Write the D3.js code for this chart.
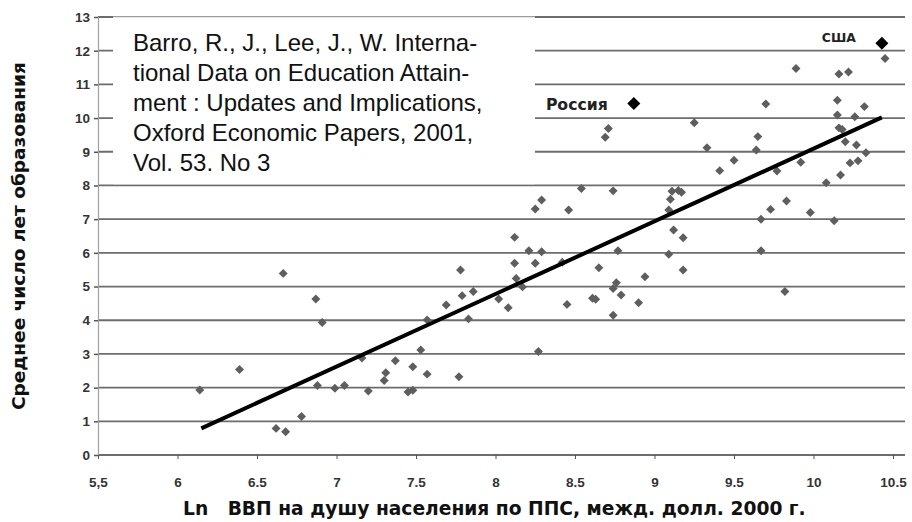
<!DOCTYPE html>
<html>
<head>
<meta charset="utf-8">
<script src="https://cdn.jsdelivr.net/npm/d3@7"></script>
<style>
    body { margin: 0; background: #fff; }
    svg { display: block; }
    .title { font-family: "DejaVu Sans", "Liberation Sans", Arial, sans-serif; font-weight: bold; fill: #111; }
    .note { font-family: "Liberation Sans", Arial, sans-serif; font-size: 24px; fill: #111; }
    .country { font-family: "DejaVu Sans", "Liberation Sans", Arial, sans-serif; font-weight: bold; fill: #222; }
    .axis text { font-family: "Liberation Sans", Arial, sans-serif; font-weight: bold; font-size: 13.5px; fill: #333; }
</style>
</head>
<body>
<div id="chart"></div>
<script>
const width = 912;
const height = 522;

// tick values and their printed labels (the source mixes "5,5" and "6.5")
const xTicks = [5.5, 6, 6.5, 7, 7.5, 8, 8.5, 9, 9.5, 10, 10.5];
const xTickLabels = ["5,5", "6", "6.5", "7", "7.5", "8", "8.5", "9", "9.5", "10", "10.5"];
const yTicks = [0, 1, 2, 3, 4, 5, 6, 7, 8, 9, 10, 11, 12, 13];

// countries: [ln GDP per capita, mean years of schooling]
const points = [
    [6.14, 1.93], [6.39, 2.54], [6.62, 0.79], [6.68, 0.69], [6.665, 5.39],
    [6.78, 1.14], [6.87, 4.63], [6.91, 3.93], [6.88, 2.06], [6.99, 1.98],
    [7.05, 2.06], [7.20, 1.90], [7.16, 2.88], [7.30, 2.21], [7.31, 2.44],
    [7.37, 2.80], [7.45, 1.87], [7.48, 1.92], [7.48, 2.62], [7.53, 3.12],
    [7.57, 2.40], [7.57, 4.01], [7.69, 4.45], [7.77, 2.32], [7.78, 5.49],
    [7.79, 4.73], [7.83, 4.04], [7.86, 4.85], [8.02, 4.63], [8.08, 4.37],
    [8.12, 5.69], [8.12, 6.46], [8.13, 5.24], [8.17, 4.99], [8.21, 6.06],
    [8.25, 5.69], [8.25, 7.30], [8.27, 3.07], [8.29, 6.03], [8.29, 7.57],
    [8.42, 5.72], [8.45, 4.47], [8.46, 7.27], [8.54, 7.91], [8.61, 4.65],
    [8.63, 4.62], [8.65, 5.56], [8.69, 9.43], [8.71, 9.69], [8.74, 7.84],
    [8.74, 4.94], [8.74, 4.15], [8.76, 5.11], [8.77, 6.06], [8.79, 4.75],
    [8.90, 4.52], [8.94, 5.29], [9.09, 5.96], [9.09, 7.27], [9.10, 7.59],
    [9.11, 7.83], [9.15, 7.85], [9.17, 7.80], [9.12, 6.68], [9.18, 6.45],
    [9.18, 5.49], [9.25, 9.86], [9.33, 9.12], [9.41, 8.44], [9.50, 8.75],
    [9.64, 9.05], [9.65, 9.45], [9.67, 7.00], [9.67, 6.06], [9.70, 10.42],
    [9.73, 7.29], [9.77, 8.43], [9.82, 4.85], [9.83, 7.54], [9.89, 11.47],
    [9.92, 8.69], [9.98, 7.20], [10.08, 8.08], [10.13, 6.95], [10.15, 10.53],
    [10.15, 10.09], [10.16, 11.31], [10.22, 11.37], [10.16, 9.71], [10.18, 9.66],
    [10.17, 8.31], [10.20, 9.30], [10.23, 8.67], [10.26, 10.04], [10.27, 9.20],
    [10.28, 8.73], [10.32, 10.34], [10.33, 8.97], [10.45, 11.77]
];

const highlighted = [
    {name: "Россия", x: 8.87, y: 10.43},
    {name: "США", x: 10.43, y: 12.22}
];

// regression line end points
const trend = [[6.15, 0.79], [10.43, 10.02]];

const noteLines = [
    "Barro, R., J., Lee, J., W. Interna-",
    "tional Data on Education Attain-",
    "ment : Updates and Implications,",
    "Oxford Economic Papers, 2001,",
    "Vol. 53. No 3"
];

const xTitle = "Ln   ВВП на душу населения по ППС, межд. долл. 2000 г.";
const yTitle = "Среднее число лет образования";

const margin = ({top: 17, right: 19, bottom: 67, left: 98});
const plotRight = width - 7;

const x = d3.scaleLinear()
    .domain([5.5, 10.5])
    .range([margin.left, width - margin.right]);

const y = d3.scaleLinear()
    .domain([0, 13])
    .range([height - margin.bottom, margin.top]);

const svg = d3.select("#chart")
    .append("svg")
    .attr("width", width)
    .attr("height", height);

// scale a text's font so that it spans the given width
function fitText(sel, target) {
    const base = 20;
    sel.style("font-size", base + "px");
    const w = sel.node().getComputedTextLength();
    sel.style("font-size", (base * target / w) + "px");
}

// horizontal gridlines
svg.append("g")
    .selectAll("line")
    .data(yTicks)
    .join("line")
    .attr("x1", margin.left)
    .attr("x2", plotRight)
    .attr("y1", d => y(d))
    .attr("y2", d => y(d))
    .attr("stroke", "#6c6c6c")
    .attr("stroke-width", 1.8);

// white note box sits over the upper gridlines
svg.append("rect")
    .attr("x", 113)
    .attr("y", y(13))
    .attr("width", 535 - 113)
    .attr("height", y(8) - y(13) - 1.2)
    .attr("fill", "#fff");
svg.append("line")
    .attr("x1", 113).attr("x2", 535)
    .attr("y1", y(13)).attr("y2", y(13))
    .attr("stroke", "#cfcfcf");

svg.append("text")
    .attr("class", "note")
    .selectAll("tspan")
    .data(noteLines)
    .join("tspan")
    .attr("x", 133)
    .attr("y", (d, i) => 51 + i * 30)
    .text(d => d);

// y axis
const yAxis = svg.append("g")
    .attr("class", "axis")
    .attr("transform", `translate(${margin.left},0)`)
    .call(d3.axisLeft(y).tickValues(yTicks).tickSize(4).tickPadding(4));
yAxis.select(".domain").attr("stroke", "#a0a0a0").attr("stroke-width", 1.2);
yAxis.selectAll(".tick line").attr("stroke", "#555").attr("stroke-width", 1.5);

// x axis
const xAxis = svg.append("g")
    .attr("class", "axis")
    .attr("transform", `translate(0,${y(0)})`)
    .call(d3.axisBottom(x).tickValues(xTicks).tickSize(4).tickPadding(18)
        .tickFormat((d, i) => xTickLabels[i]));
xAxis.select(".domain").remove();
xAxis.selectAll(".tick line").attr("stroke", "#555");

// diamonds: squares turned by 45 degrees
const diamond = d3.symbol().type(d3.symbolSquare);

svg.append("g")
    .selectAll("path")
    .data(points)
    .join("path")
    .attr("transform", d => `translate(${x(d[0])},${y(d[1])}) rotate(45)`)
    .attr("d", diamond.size(40)())
    .attr("fill", "#5e5e5e");

const line = d3.line()
    .x(d => x(d[0]))
    .y(d => y(d[1]));

svg.append("path")
    .attr("d", line(trend))
    .attr("stroke", "#000")
    .attr("stroke-width", 4)
    .attr("fill", "none");

svg.append("g")
    .selectAll("path")
    .data(highlighted)
    .join("path")
    .attr("transform", d => `translate(${x(d.x)},${y(d.y)}) rotate(45)`)
    .attr("d", diamond.size(85)())
    .attr("fill", "#000");

const russia = svg.append("text")
    .attr("class", "country")
    .attr("x", x(highlighted[0].x) - 26)
    .attr("y", y(highlighted[0].y) + 6)
    .attr("text-anchor", "end")
    .text(highlighted[0].name);
fitText(russia, 62);

const usa = svg.append("text")
    .attr("class", "country")
    .attr("x", x(highlighted[1].x) - 60)
    .attr("y", y(highlighted[1].y) - 1)
    .text(highlighted[1].name);
fitText(usa, 34);

// titles
const xt = svg.append("text")
    .attr("class", "title")
    .attr("x", 183)
    .attr("y", 515)
    .style("white-space", "pre")
    .text(xTitle);
fitText(xt, 623);

const yt = svg.append("text")
    .attr("class", "title")
    .attr("transform", `translate(25,410) rotate(-90)`)
    .text(yTitle);
fitText(yt, 348);
</script>
</body>
</html>
